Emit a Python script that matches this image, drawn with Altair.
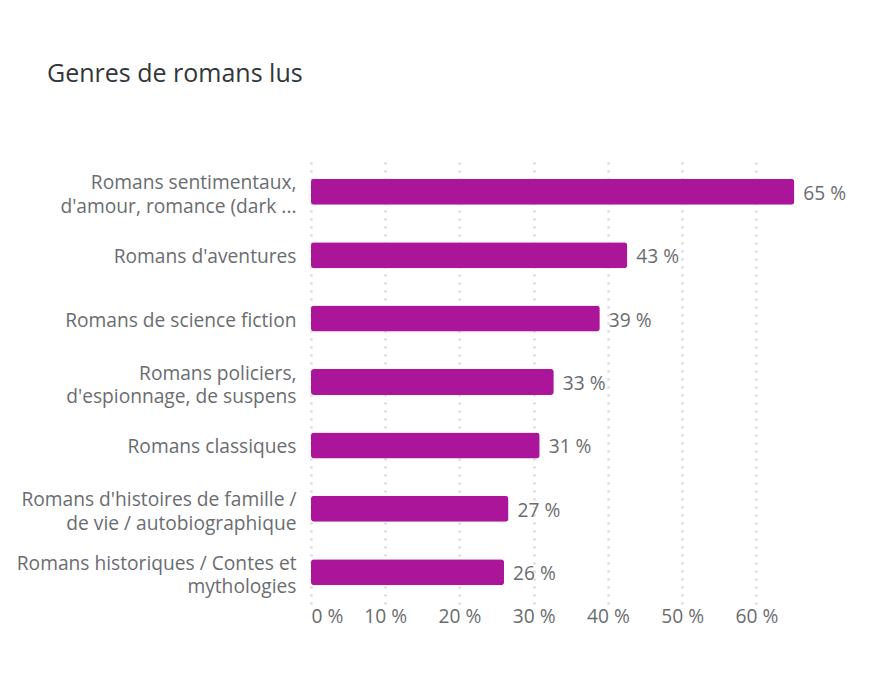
import altair as alt
import pandas as pd

categories = [
    "Romans sentimentaux,|d'amour, romance (dark ...",
    "Romans d'aventures",
    "Romans de science fiction",
    "Romans policiers,|d'espionnage, de suspens",
    "Romans classiques",
    "Romans d'histoires de famille /|de vie / autobiographique",
    "Romans historiques / Contes et|mythologies",
]
values = [65.1, 42.6, 38.9, 32.7, 30.8, 26.6, 26.0]
x_ticks = [0, 10, 20, 30, 40, 50, 60]

df = pd.DataFrame({"genre": categories, "pct": values})
df["label"] = [f"{round(v)} %" for v in values]

FONT = "Open Sans"
GRAY = "#6a6d70"
FS = 19.2

y_enc = alt.Y(
    "genre:N",
    sort=categories,
    title=None,
    scale=alt.Scale(paddingInner=0.59, paddingOuter=0.295),
    axis=alt.Axis(
        labelExpr="split(datum.label, '|')",
        labelFont=FONT,
        labelFontSize=FS,
        labelColor=GRAY,
        labelLineHeight=23.5,
        labelPadding=15,
        labelLimit=300,
        labelOffset={
            "condition": {"test": "indexof(datum.value, '|') >= 0", "value": -8.5},
            "value": 2,
        },
        ticks=False,
        domain=False,
        grid=False,
    ),
)

x_enc = alt.X(
    "pct:Q",
    title=None,
    scale=alt.Scale(domain=[0, 66], nice=False),
    axis=alt.Axis(
        values=x_ticks,
        labelExpr="datum.value + ' %'",
        labelFont=FONT,
        labelFontSize=FS,
        labelColor=GRAY,
        labelPadding=3,
        ticks=False,
        domain=False,
        grid=True,
        gridColor="#d8d8d8",
        gridWidth=2.5,
        gridDash=[2, 6],
    ),
)

bars = alt.Chart(df).mark_bar(color="#aa1599", cornerRadius=3).encode(x=x_enc, y=y_enc)

texts = alt.Chart(df).mark_text(
    align="left", baseline="middle", dx=9, dy=2, font=FONT, fontSize=FS, color=GRAY
).encode(x="pct:Q", y=alt.Y("genre:N", sort=categories), text="label:N")

chart = (
    alt.layer(bars, texts)
    .properties(
        width=490,
        height=444,
        autosize=alt.AutoSizeParams(type="none"),
        padding={"left": 303, "top": 152, "right": 77, "bottom": 69},
        background="white",
        title=alt.TitleParams(
            "Genres de romans lus",
            anchor="start",
            frame="group",
            dx=-264,
            offset=73,
            font=FONT,
            fontSize=25,
            fontWeight="normal",
            color="#32363a",
        ),
    )
    .configure_view(stroke=None)
)

chart.save("out.html", embed_options={"renderer": "svg", "actions": False})
